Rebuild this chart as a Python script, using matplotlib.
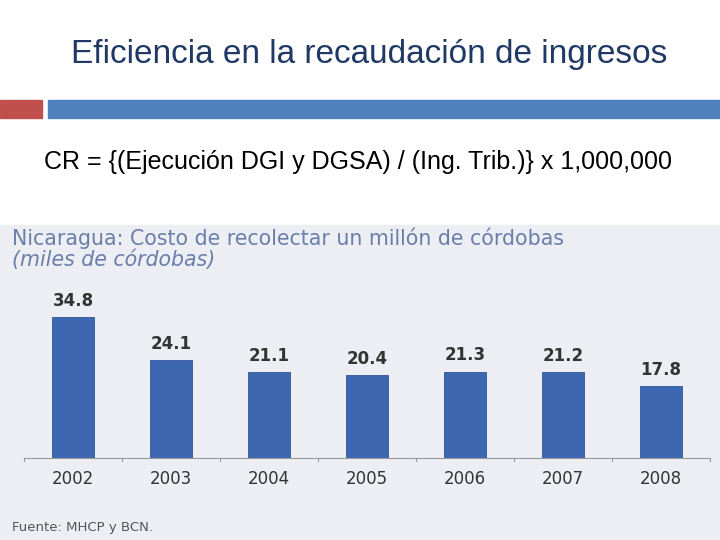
import matplotlib
matplotlib.use("Agg")
import matplotlib.pyplot as plt
from matplotlib.patches import Rectangle

years = ["2002", "2003", "2004", "2005", "2006", "2007", "2008"]
values = [34.8, 24.1, 21.1, 20.4, 21.3, 21.2, 17.8]

W, H = 720, 540
fig = plt.figure(figsize=(W/100, H/100), dpi=100)
fig.patch.set_facecolor("white")

def fx(x): return x / W
def fy(y): return 1 - y / H

# header decoration
fig.patches.append(Rectangle((0, fy(118)), fx(42), 18/H, transform=fig.transFigure, color="#c0504d", zorder=-5))
fig.patches.append(Rectangle((fx(48), fy(118)), fx(672), 18/H, transform=fig.transFigure, color="#4f81bd", zorder=-5))
fig.text(fx(369), fy(55), "Eficiencia en la recaudación de ingresos", ha="center", va="center",
         fontsize=24, color="#1f3864", family="Liberation Sans")
fig.text(fx(44), fy(162), "CR = {(Ejecución DGI y DGSA) / (Ing. Trib.)} x 1,000,000", ha="left", va="center",
         fontsize=18, color="black", family="Liberation Sans")

# chart background
fig.patches.append(Rectangle((0, 0), 1, fy(225), transform=fig.transFigure, color="#eceef4", zorder=-10))
fig.text(fx(12), fy(238), "Nicaragua: Costo de recolectar un millón de córdobas", ha="left", va="center",
         fontsize=14.8, color="#6a7fa8")
fig.text(fx(12), fy(260), "(miles de córdobas)", ha="left", va="center",
         fontsize=14.8, color="#6a7fa8", style="italic")
fig.text(fx(12), fy(527), "Fuente: MHCP y BCN.", ha="left", va="center", fontsize=9.5, color="#555555")

ax = fig.add_axes([fx(25), fy(458), fx(710) - fx(25), (458 - 280) / H])
ax.set_zorder(5)
ax.patch.set_alpha(0)
x = list(range(len(years)))
ax.bar(x, values, width=0.43, color="#3d67b1", edgecolor="#2f5597", linewidth=0.6)
for xi, v in zip(x, values):
    ax.text(xi, v + 1.8, f"{v:.1f}", ha="center", va="bottom", fontsize=12,
            fontweight="bold", color="#333333")
ax.set_xlim(-0.49, 6.5)
ax.set_ylim(0, 43.9)
ax.set_yticks([])
ax.set_xticks(x)
ax.set_xticklabels(years, fontsize=12, color="#333333")
ax.tick_params(axis="x", length=0, pad=9)
for b in [i + 0.5 for i in range(-1, 7)]:
    ax.plot([b, b], [0, -0.8], color="#999999", lw=0.8, clip_on=False)
for s in ["top", "right", "left"]:
    ax.spines[s].set_visible(False)
ax.spines["bottom"].set_color("#999999")

fig.savefig("out.png", dpi=100)
